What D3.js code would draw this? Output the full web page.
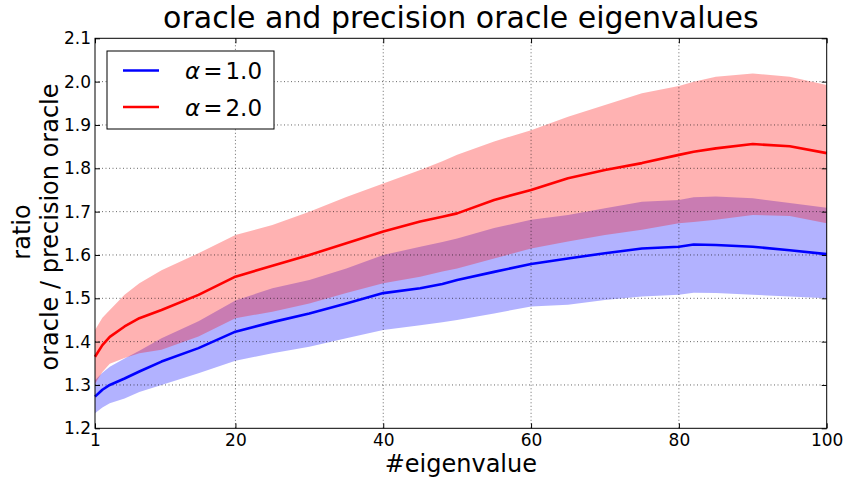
<!DOCTYPE html>
<html>
<head>
<meta charset="utf-8">
<script src="https://cdn.jsdelivr.net/npm/d3@7"></script>
<style>
  body { margin: 0; background: #fff; }
  text { font-family: "DejaVu Sans", sans-serif; fill: #000; }
</style>
</head>
<body>
<div id="chart"></div>
<script>
const eigIndex = [1, 2, 3, 5, 7, 10, 15, 20, 25, 30, 35, 40, 45, 48, 50, 55, 60, 65, 70, 75, 80, 82, 85, 90, 95, 100];

// alpha = 1.0
const blueMean  = [1.273, 1.289, 1.300, 1.315, 1.331, 1.354, 1.385, 1.423, 1.445, 1.465, 1.488, 1.512, 1.523, 1.533, 1.542, 1.561, 1.579, 1.592, 1.604, 1.615, 1.619, 1.624, 1.623, 1.619, 1.611, 1.602];
const blueLower = [1.235, 1.248, 1.258, 1.269, 1.284, 1.300, 1.327, 1.356, 1.373, 1.388, 1.408, 1.427, 1.438, 1.445, 1.450, 1.465, 1.481, 1.485, 1.496, 1.504, 1.508, 1.513, 1.512, 1.508, 1.504, 1.500];
const blueUpper = [1.311, 1.328, 1.342, 1.361, 1.379, 1.408, 1.447, 1.495, 1.523, 1.542, 1.569, 1.600, 1.619, 1.630, 1.638, 1.662, 1.681, 1.692, 1.708, 1.723, 1.727, 1.733, 1.735, 1.731, 1.720, 1.709];

// alpha = 2.0
const redMean  = [1.365, 1.392, 1.411, 1.435, 1.454, 1.473, 1.508, 1.550, 1.575, 1.600, 1.627, 1.654, 1.677, 1.688, 1.696, 1.727, 1.750, 1.777, 1.796, 1.812, 1.831, 1.838, 1.846, 1.856, 1.851, 1.835];
const redLower = [1.303, 1.330, 1.349, 1.362, 1.373, 1.381, 1.412, 1.454, 1.469, 1.488, 1.512, 1.535, 1.550, 1.562, 1.569, 1.592, 1.615, 1.631, 1.646, 1.658, 1.673, 1.676, 1.681, 1.692, 1.690, 1.673];
const redUpper = [1.427, 1.455, 1.473, 1.508, 1.535, 1.565, 1.604, 1.646, 1.669, 1.700, 1.734, 1.765, 1.796, 1.816, 1.831, 1.862, 1.888, 1.919, 1.946, 1.973, 1.990, 2.000, 2.011, 2.019, 2.011, 1.992];

const seriesNames = ['1.0', '2.0'];
const seriesColors = ['#0000ff', '#ff0000'];

const xTicks = [1, 20, 40, 60, 80, 100];
const yTicks = [1.2, 1.3, 1.4, 1.5, 1.6, 1.7, 1.8, 1.9, 2.0, 2.1];

const width = 846;
const height = 480;
const margin = { top: 38.3, right: 19.3, bottom: 51.7, left: 95 };

const usableArea = {
  top: margin.top,
  right: width - margin.right,
  bottom: height - margin.bottom,
  left: margin.left,
  width: width - margin.left - margin.right,
  height: height - margin.top - margin.bottom,
};

const svg = d3.select('#chart')
  .append('svg')
  .attr('width', width)
  .attr('height', height);

const xScale = d3.scaleLinear().domain([1, 100]).range([usableArea.left, usableArea.right]);
const yScale = d3.scaleLinear().domain([1.2, 2.1]).range([usableArea.bottom, usableArea.top]);

function buildSeries(mean, lower, upper) {
  return eigIndex.map((x, i) => ({ x, mean: mean[i], lower: lower[i], upper: upper[i] }));
}
const series = [
  buildSeries(blueMean, blueLower, blueUpper),
  buildSeries(redMean, redLower, redUpper),
];

// bands
const area = d3.area()
  .x(d => xScale(d.x))
  .y0(d => yScale(d.lower))
  .y1(d => yScale(d.upper));

series.forEach((s, i) => {
  svg.append('path')
    .datum(s)
    .attr('d', area)
    .attr('fill', seriesColors[i])
    .attr('fill-opacity', 0.3)
    .attr('stroke', 'none');
});

// gridlines (dotted, drawn above fills like matplotlib)
const grid = svg.append('g').attr('class', 'grid');
grid.selectAll('line.gx')
  .data(xTicks.slice(1, -1))
  .join('line')
  .attr('x1', d => xScale(d)).attr('x2', d => xScale(d))
  .attr('y1', usableArea.top).attr('y2', usableArea.bottom);
grid.selectAll('line.gy')
  .data(yTicks.slice(1, -1))
  .join('line')
  .attr('class', 'gy')
  .attr('y1', d => yScale(d)).attr('y2', d => yScale(d))
  .attr('x1', usableArea.left).attr('x2', usableArea.right);
grid.selectAll('line')
  .attr('stroke', '#000')
  .attr('stroke-width', 0.8)
  .attr('stroke-dasharray', '1,2.5')
  .attr('stroke-opacity', 0.75);

// mean lines
const line = d3.line()
  .x(d => xScale(d.x))
  .y(d => yScale(d.mean));

series.forEach((s, i) => {
  svg.append('path')
    .datum(s)
    .attr('d', line)
    .attr('fill', 'none')
    .attr('stroke', seriesColors[i])
    .attr('stroke-width', 2.6)
    .attr('stroke-linejoin', 'round');
});

// axes with inward ticks on all sides
const tickLen = 5;
svg.append('g')
  .attr('transform', `translate(0, ${usableArea.bottom})`)
  .call(d3.axisBottom(xScale).tickValues(xTicks).tickSize(-tickLen).tickPadding(6).tickFormat(d3.format('d')));
svg.append('g')
  .attr('transform', `translate(${usableArea.left}, 0)`)
  .call(d3.axisLeft(yScale).tickValues(yTicks).tickSize(-tickLen).tickPadding(4).tickFormat(d3.format('.1f')));
svg.append('g')
  .attr('transform', `translate(0, ${usableArea.top})`)
  .call(d3.axisTop(xScale).tickValues(xTicks).tickSize(-tickLen).tickFormat(''));
svg.append('g')
  .attr('transform', `translate(${usableArea.right}, 0)`)
  .call(d3.axisRight(yScale).tickValues(yTicks).tickSize(-tickLen).tickFormat(''));

svg.selectAll('.domain').remove();
svg.selectAll('.tick line').attr('stroke', '#000').attr('stroke-width', 1);
svg.selectAll('.tick text')
  .style('font-family', '"DejaVu Sans", sans-serif')
  .style('font-size', '17px')
  .attr('fill', '#000');

// frame
svg.append('rect')
  .attr('x', usableArea.left)
  .attr('y', usableArea.top)
  .attr('width', usableArea.width)
  .attr('height', usableArea.height)
  .attr('fill', 'none')
  .attr('stroke', '#000')
  .attr('stroke-width', 1);

// title and labels
svg.append('text')
  .attr('x', (usableArea.left + usableArea.right) / 2)
  .attr('y', 28)
  .attr('text-anchor', 'middle')
  .style('font-size', '30px')
  .text('oracle and precision oracle eigenvalues');

svg.append('text')
  .attr('x', (usableArea.left + usableArea.right) / 2)
  .attr('y', 472)
  .attr('text-anchor', 'middle')
  .style('font-size', '24px')
  .text('#eigenvalue');

svg.append('text')
  .attr('transform', 'translate(30, 232) rotate(-90)')
  .attr('text-anchor', 'middle')
  .style('font-size', '24px')
  .text('ratio');
svg.append('text')
  .attr('transform', 'translate(57.5, 227) rotate(-90)')
  .attr('text-anchor', 'middle')
  .style('font-size', '24px')
  .text('oracle / precision oracle');

// legend
const legend = svg.append('g').attr('transform', 'translate(107, 51)');
legend.append('rect')
  .attr('width', 167)
  .attr('height', 78)
  .attr('fill', '#fff')
  .attr('stroke', '#000')
  .attr('stroke-width', 1);

const items = legend.selectAll('g.item')
  .data(seriesNames)
  .join('g')
  .attr('class', 'item')
  .attr('transform', (d, i) => `translate(0, ${19.5 + i * 36.5})`);
items.append('line')
  .attr('x1', 16).attr('x2', 52)
  .attr('stroke', (d, i) => seriesColors[i])
  .attr('stroke-width', 2.6);
const lt = items.append('text')
  .attr('x', 78)
  .attr('y', 8.5)
  .style('font-size', '23px');
lt.append('tspan').style('font-style', 'italic').text('α');
lt.append('tspan').attr('dx', 3).text('=');
lt.append('tspan').attr('dx', 3).text(d => d);
</script>
</body>
</html>
